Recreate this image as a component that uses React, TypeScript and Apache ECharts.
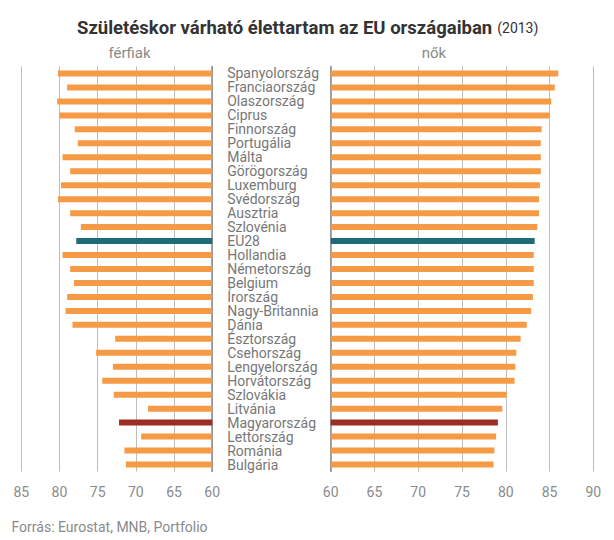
import React, { useEffect, useRef } from "react";
import * as echarts from "echarts";

const categories = [
  "Spanyolország", "Franciaország", "Olaszország", "Ciprus", "Finnország",
  "Portugália", "Málta", "Görögország", "Luxemburg", "Svédország",
  "Ausztria", "Szlovénia", "EU28", "Hollandia", "Németország",
  "Belgium", "Írország", "Nagy-Britannia", "Dánia", "Észtország",
  "Csehország", "Lengyelország", "Horvátország", "Szlovákia", "Litvánia",
  "Magyarország", "Lettország", "Románia", "Bulgária",
];

const men = [
  80.2, 79.0, 80.3, 80.0, 78.0,
  77.6, 79.6, 78.6, 79.8, 80.2,
  78.6, 77.2, 77.8, 79.6, 78.6,
  78.1, 79.0, 79.2, 78.3, 72.7,
  75.2, 73.0, 74.4, 72.9, 68.4,
  72.2, 69.3, 71.5, 71.3,
];

const women = [
  86.0, 85.6, 85.2, 85.0, 84.1,
  84.0, 84.0, 84.0, 83.9, 83.8,
  83.8, 83.6, 83.3, 83.2, 83.2,
  83.2, 83.1, 82.9, 82.4, 81.7,
  81.2, 81.1, 81.0, 80.1, 79.6,
  79.1, 78.9, 78.7, 78.6,
];

const ORANGE = "#F79A45";
const TEAL = "#1E6C78";
const RED = "#9E2E24";

const colorFor = (name: string) =>
  name === "EU28" ? TEAL : name === "Magyarország" ? RED : ORANGE;

export default function App() {
  const ref = useRef<HTMLDivElement>(null);
  useEffect(() => {
    if (!ref.current) return;
    const chart = echarts.init(ref.current, null, { renderer: "svg" });
    const font = "Roboto, 'Noto Sans', sans-serif";
    const gridTop = 66.5;
    const gridHeight = 405;
    const xCommon = (min: number, max: number, inverse: boolean, gridIndex: number) => ({
      gridIndex,
      type: "value",
      min,
      max,
      interval: 5,
      inverse,
      position: "bottom",
      splitLine: { show: true, lineStyle: { color: "#bdbdbd", width: 1 } },
      axisLine: { show: false },
      axisTick: { show: false },
      axisLabel: { color: "#8a8a8a", fontSize: 14, fontFamily: font, margin: 13 },
    });
    const option: any = {
      animation: false,
      backgroundColor: "#ffffff",
      title: {
        text: "{b|Születéskor várható élettartam az EU országaiban} {n|(2013)}",
        left: 72,
        top: 13,
        textStyle: {
          fontWeight: "normal",
          rich: {
            b: { fontSize: 18.5, fontWeight: "bold", fontFamily: font, color: "#333333" },
            n: { fontSize: 14, fontWeight: "normal", fontFamily: font, color: "#333333" },
          },
        },
      },
      grid: [
        { left: 21.3, width: 190.9, top: gridTop, height: gridHeight },
        { left: 330.7, width: 262.6, top: gridTop, height: gridHeight },
      ],
      xAxis: [xCommon(60, 85, true, 0), xCommon(60, 90, false, 1)],
      yAxis: [
        {
          gridIndex: 0,
          type: "category",
          data: categories,
          inverse: true,
          position: "right",
          axisLine: { show: true, lineStyle: { color: "#8a8a8a", width: 1.5 } },
          axisTick: { show: false },
          axisLabel: { show: false },
          splitLine: { show: false },
        },
        {
          gridIndex: 1,
          type: "category",
          data: categories,
          inverse: true,
          position: "left",
          axisLine: { show: true, lineStyle: { color: "#8a8a8a", width: 1.5 } },
          axisTick: { show: false },
          axisLabel: {
            show: true,
            align: "left",
            margin: 103.5,
            color: "#777777",
            fontSize: 14,
            lineHeight: 13,
            fontFamily: font,
            interval: 0,
          },
          splitLine: { show: false },
        },
      ],
      series: [
        {
          type: "bar",
          xAxisIndex: 0,
          yAxisIndex: 0,
          barWidth: 6,
          clip: true,
          data: men.map((v, i) => ({ value: v, itemStyle: { color: colorFor(categories[i]) } })),
        },
        {
          type: "bar",
          xAxisIndex: 1,
          yAxisIndex: 1,
          barWidth: 6,
          clip: true,
          data: women.map((v, i) => ({ value: v, itemStyle: { color: colorFor(categories[i]) } })),
        },
      ],
      graphic: [
        {
          type: "text",
          x: 129.5,
          y: 53,
          style: {
            text: "férfiak",
            fill: "#8a8a8a",
            fontSize: 15,
            fontFamily: font,
            align: "center",
            verticalAlign: "middle",
          },
        },
        {
          type: "text",
          x: 434,
          y: 53,
          style: {
            text: "nők",
            fill: "#8a8a8a",
            fontSize: 15,
            fontFamily: font,
            align: "center",
            verticalAlign: "middle",
          },
        },
        {
          type: "text",
          x: 11.5,
          y: 527,
          style: {
            text: "Forrás: Eurostat, MNB, Portfolio",
            fill: "#8a8a8a",
            fontSize: 14,
            fontFamily: font,
            align: "left",
            verticalAlign: "middle",
          },
        },
      ],
    };
    chart.setOption(option);
    return () => chart.dispose();
  }, []);
  return (
    <div
      ref={ref}
      style={{ position: "absolute", left: 0, top: 0, width: 614, height: 540 }}
    />
  );
}
